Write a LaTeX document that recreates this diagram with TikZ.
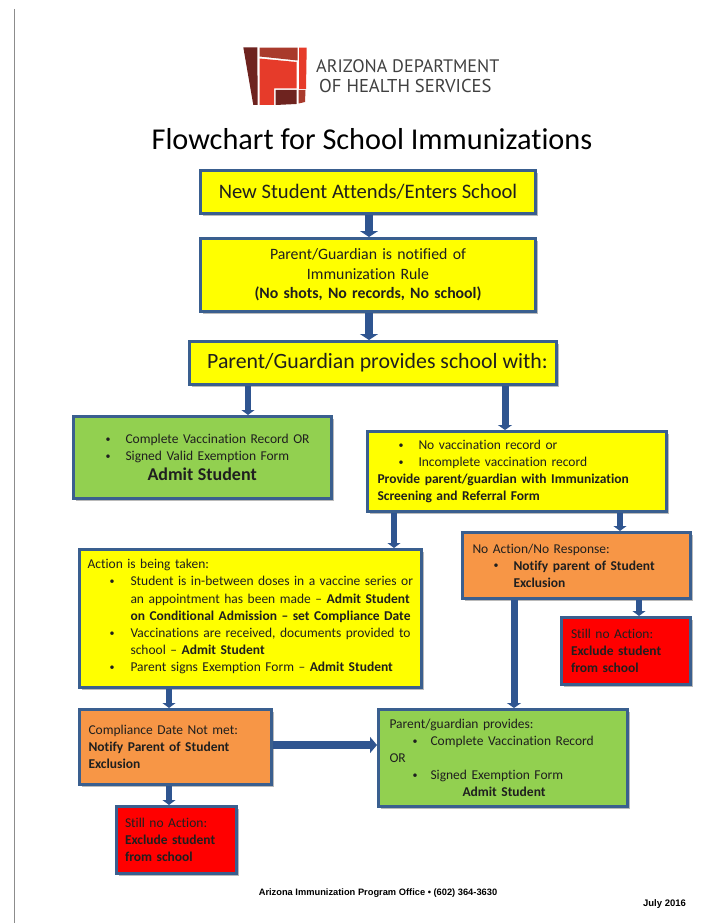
\documentclass[tikz,border=0pt]{standalone}
\usepackage{fontspec}
\setmainfont{Carlito}[Ligatures=NoCommon]
\newfontfamily\logofont{PT Sans}
\newfontfamily\footfont{Liberation Sans}
\usetikzlibrary{arrows.meta,shadows}
\definecolor{bd}{HTML}{3A5F8F}
\definecolor{arrowblue}{HTML}{2F5590}
\definecolor{yel}{HTML}{FFFF00}
\definecolor{grn}{HTML}{92D050}
\definecolor{org}{HTML}{F79646}
\definecolor{rd}{HTML}{FF0000}
\definecolor{lgdark}{HTML}{6E231F}
\definecolor{lgmid}{HTML}{A93A2C}
\definecolor{lgred}{HTML}{E63B2A}
\newcommand{\bul}[3]{\makebox[0pt][l]{\hspace*{#1pt}\raisebox{1.2pt}{\fontsize{10}{10}\selectfont •}}\hspace*{#2pt}#3}
\newcommand{\ind}[1]{\hspace*{#1pt}}
\tikzset{
  box/.style={draw=bd,line width=3pt,inner xsep=8pt,inner ysep=0pt,align=left,
    drop shadow={shadow xshift=2pt,shadow yshift=-2pt,fill=black!45,opacity=.6},
    anchor=north west,font=\fontsize{13.5}{17.1}\selectfont,text=black!88},
  arr/.style={draw=arrowblue,line width=6pt,-{Triangle[length=5pt,width=13pt]}},
  arrmid/.style={draw=arrowblue,line width=7pt,-{Triangle[length=5pt,width=14pt]}},
  arrthick/.style={draw=arrowblue,line width=8pt,-{Triangle[length=6pt,width=18pt]}},
  lbl/.style={inner sep=0pt},
}
\begin{document}
\begin{tikzpicture}[x=1pt,y=-1pt]
\useasboundingbox (0,0) rectangle (713,923);
\fill[white] (0,0) rectangle (713,923);
\draw[line width=1pt,black!45] (14.5,9) -- (14.5,923);
% logo
\fill[lgdark] (243.3,47.3) -- (257.3,47.3) -- (257.7,105) -- (253.3,105) -- cycle;
\fill[lgmid] (259.5,47.6) -- (297.5,47.6) -- (297.5,60.5) -- (259.5,56.5) -- cycle;
\fill[lgred] (259.5,58.5) -- (296.5,62) -- (296.5,88.5) -- (274,88.5) -- (274,105) -- (259.5,105) -- cycle;
\fill[lgred] (299,47.6) -- (306.7,47.6) -- (306,89) -- (299,89) -- cycle;
\fill[lgdark] (275.5,90) -- (296.5,90) -- (296.5,104) -- (275.5,105) -- cycle;
\fill[lgmid] (298.5,90) -- (305.5,90) -- (305,102) -- (298.5,103.5) -- cycle;
\node[lbl,text=black!75,anchor=west] (logo1) at (316,66) {\logofont\fontsize{18.1}{20}\selectfont ARIZONA DEPARTMENT};
\node[lbl,text=black!75,anchor=west] (logo2) at (319,85.5) {\logofont\fontsize{18.6}{20}\selectfont OF HEALTH SERVICES};
\node[lbl,anchor=center] (title) at (372,139) {\fontsize{30.3}{32}\selectfont Flowchart for School Immunizations};
% boxes
\node[box,fill=yel,align=center,font=\fontsize{20.6}{24}\selectfont,minimum width=335pt,minimum height=43pt] (enter) at (199,169) {New Student Attends/Enters School};
\node[box,fill=yel,minimum width=335pt,minimum height=73pt,align=center,text width=319pt,font=\fontsize{15.8}{19.5}\selectfont] (notify) at (199,237) {Parent/Guardian is notified of\\Immunization Rule\\\textbf{(No shots, No records, No school)}};
\node[box,fill=yel,align=center,font=\fontsize{21.8}{24}\selectfont,minimum width=367pt,minimum height=43pt] (provides) at (188,340) {\ind{9}Parent/Guardian provides school with:};
\node[box,fill=grn,minimum width=258pt,minimum height=82pt,text width=242pt] (green) at (72,415) {\bul{24}{44}{Complete Vaccination Record OR}\\\bul{24}{44}{Signed Valid Exemption Form}\\[3pt]\ind{66}{\fontsize{18}{20}\selectfont\textbf{Admit Student}}};
\node[box,fill=yel,minimum width=299pt,minimum height=80pt,text width=279pt,inner xsep=10pt] (none) at (366,430) {\bul{21}{41}{No vaccination record or}\\\bul{21}{41}{Incomplete vaccination record}\\\textbf{Provide parent/guardian with Immunization}\\\textbf{Screening and Referral Form}};
\node[box,fill=yel,minimum width=342pt,minimum height=138pt,text width=326pt] (action) at (78,548) {Action is being taken:\\\bul{22}{43}{Student is in-between doses in a vaccine series or}\\\ind{43}an appointment has been made – \textbf{Admit Student}\\\ind{43}\textbf{on Conditional Admission – set Compliance Date}\\\bul{22}{43}{Vaccinations are received, documents provided to}\\\ind{43}school – \textbf{Admit Student}\\\bul{22}{43}{Parent signs Exemption Form – \textbf{Admit Student}}\rule[-6pt]{0pt}{6pt}};
\node[box,fill=org,minimum width=228pt,minimum height=66pt,text width=208pt,inner xsep=10pt] (noact) at (461,531) {No Action/No Response:\\\bul{21}{41}{\textbf{Notify parent of Student}}\\\ind{41}\textbf{Exclusion}};
\node[box,fill=rd,minimum width=129pt,minimum height=67pt,text width=110pt,inner xsep=9.5pt] (redr) at (560,616) {Still no Action:\\\textbf{Exclude student}\\\textbf{from school}};
\node[box,fill=org,minimum width=192pt,minimum height=75pt,text width=180pt,inner xsep=6pt] (late) at (78,708) {\ind{3}Compliance Date Not met:\\\ind{3}\textbf{Notify Parent of Student}\\\ind{3}\textbf{Exclusion}};
\node[box,fill=grn,minimum width=249pt,minimum height=97pt,text width=227pt,inner xsep=11pt] (comply) at (377,708) {Parent/guardian provides:\\\bul{23}{41}{Complete Vaccination Record}\\OR\\\bul{23}{41}{Signed Exemption Form}\\\ind{73}\textbf{Admit Student}};
\node[box,fill=rd,minimum width=120pt,minimum height=67pt,text width=103pt,inner xsep=8.5pt] (redl) at (115,805) {Still no Action:\\\textbf{Exclude student}\\\textbf{from school}};
% footer
\node[lbl,anchor=center] (office) at (378,893) {\footfont\fontsize{9.3}{10}\selectfont\textbf{Arizona Immunization Program Office • (602) 364-3630}};
\node[lbl,anchor=center] (date) at (664.5,904) {\footfont\fontsize{9.5}{10}\selectfont\textbf{July 2016}};
% connector columns
\coordinate (c1) at (248,0);
\coordinate (c2) at (505,0);
\coordinate (c3) at (394,0);
\coordinate (c4) at (620,0);
\coordinate (c5) at (514,0);
\coordinate (c6) at (639,0);
\coordinate (c7) at (169,0);
\coordinate (c8) at (369,0);
\draw[arrthick] (enter.south -| c8) -- (notify.north -| c8);
\draw[arrthick] (notify.south -| c8) -- (provides.north -| c8);
\draw[arr] (provides.south -| c1) -- (green.north -| c1);
\draw[arrmid] (provides.south -| c2) -- (none.north -| c2);
\draw[arr] (none.south -| c3) -- (action.north -| c3);
\draw[arr] (none.south -| c4) -- (noact.north -| c4);
\draw[arrmid] (noact.south -| c5) -- (comply.north -| c5);
\draw[arr] (noact.south -| c6) -- (redr.north -| c6);
\draw[arr] (action.south -| c7) -- (late.north -| c7);
\draw[arr] (late.south -| c7) -- (redl.north -| c7);
\draw[arrthick,-{Triangle[length=7pt,width=16pt]}] (late.east |- 0,745) -- (comply.west |- 0,745);
\end{tikzpicture}
\end{document}
